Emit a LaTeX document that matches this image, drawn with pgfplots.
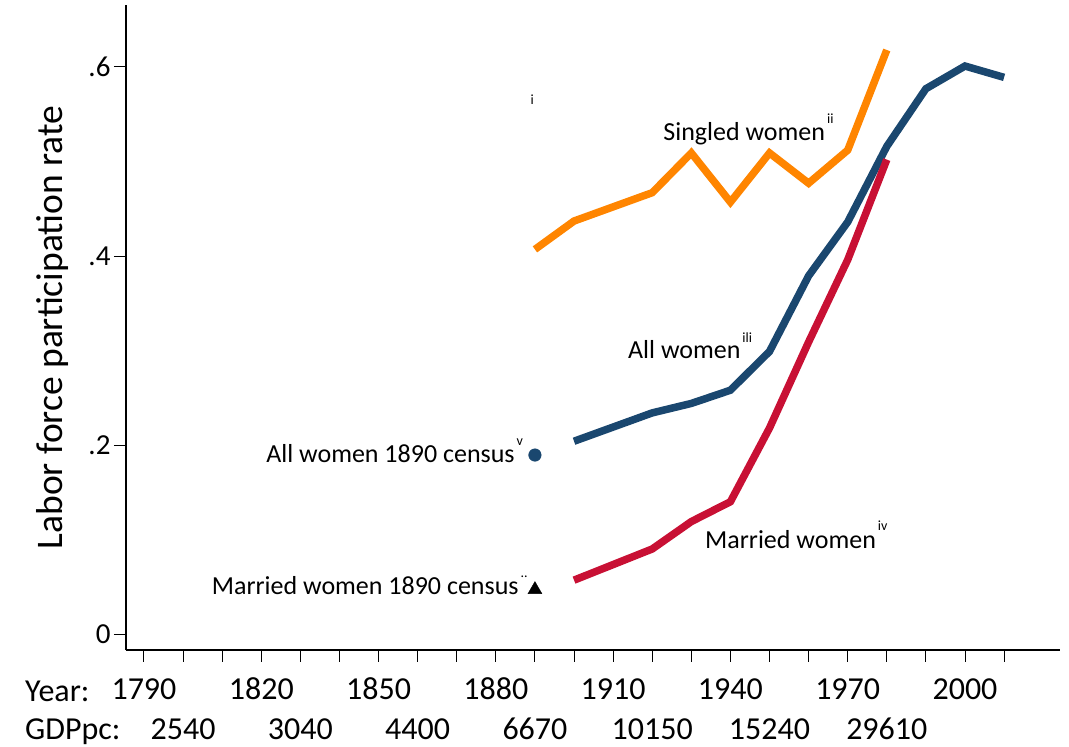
\documentclass[border=0pt]{standalone}
\usepackage{pgfplots}
\pgfplotsset{compat=1.18}
\usepackage{fontspec}
\setmainfont{Carlito}
\definecolor{sorange}{RGB}{255,133,0}
\definecolor{snavy}{RGB}{26,71,111}
\definecolor{sred}{RGB}{200,16,52}
\newcommand\supr[2]{\kern2pt\raisebox{#1}{\fontsize{14}{14}\selectfont #2}}
\begin{document}
\begin{tikzpicture}
\useasboundingbox (-126pt,-97pt) rectangle (943pt,650pt);
\begin{axis}[
  scale only axis, width=934pt, height=645pt,
  xmin=1785.4, xmax=2024.3, ymin=-0.0169, ymax=0.6656,
  axis lines*=left,
  axis line style={black, line width=1.2pt},
  /pgf/number format/assume math mode=true,
  xtick={1790,1800,...,2010},
  xticklabels={1790,,,1820,,,1850,,,1880,,,1910,,,1940,,,1970,,,2000,},
  extra x ticks={1800,1830,1860,1890,1920,1950,1980},
  extra x tick labels={2540,3040,4400,6670,10150,15240,29610},
  extra x tick style={xticklabel style={yshift=-39pt}},
  ytick={0,0.2,0.4,0.6}, yticklabels={0,.2,.4,.6},
  tick align=outside, major tick length=12pt,
  tick style={black, line width=1pt},
  xticklabel style={font=\fontsize{32}{32}\selectfont, anchor=base, yshift=-38pt},
  yticklabel style={font=\fontsize{29}{29}\selectfont},
  ylabel={Labor force participation rate},
  ylabel style={font=\fontsize{37.5}{37.5}\selectfont, at={(rel axis cs:-0.0792,0.5)}, anchor=center},
  clip=false,
]
\addplot[sorange, line width=7.5pt] coordinates {(1890,0.407)(1900,0.437)(1920,0.467)(1930,0.509)(1940,0.457)(1950,0.509)(1960,0.477)(1970,0.512)(1980,0.618)};
\addplot[snavy, line width=7.5pt] coordinates {(1900,0.204)(1920,0.234)(1930,0.244)(1940,0.258)(1950,0.299)(1960,0.379)(1970,0.436)(1980,0.516)(1990,0.577)(2000,0.601)(2010,0.589)};
\addplot[sred, line width=7.5pt] coordinates {(1900,0.057)(1920,0.090)(1930,0.119)(1940,0.140)(1950,0.218)(1960,0.309)(1970,0.396)(1980,0.502)};
\addplot[only marks, mark=*, mark size=6.3pt, snavy] coordinates {(1890,0.1894)};
\addplot[only marks, mark=triangle*, mark size=8pt, black] coordinates {(1890,0.047)};
\begin{scope}[every node/.style={inner sep=0pt, font=\fontsize{26}{26}\selectfont}]
\node[anchor=base west] at (axis cs:1922.8,0.5217) {Singled women\supr{17pt}{ii}};
\node[anchor=base west] at (axis cs:1913.8,0.292) {All women\supr{16pt}{ili}};
\node[anchor=base west] at (axis cs:1933.5,0.091) {Married women\supr{18pt}{iv}};
\node[anchor=base east] at (axis cs:1887.0,0.1813) {All women 1890 census\supr{17pt}{v}};
\node[anchor=base east] at (axis cs:1888.2,0.0413) {Married women 1890 census\supr{17pt}{..}};
\node[anchor=base, font=\fontsize{14}{14}\selectfont] at (axis cs:1889.3,0.560) {i};
\node[anchor=base west, font=\fontsize{32}{32}\selectfont] at (rel axis cs:-0.1081,-0.0791) {Year:};
\node[anchor=base west, font=\fontsize{32}{32}\selectfont] at (rel axis cs:-0.1081,-0.1395) {GDPpc:};
\end{scope}
\end{axis}
\end{tikzpicture}
\end{document}
